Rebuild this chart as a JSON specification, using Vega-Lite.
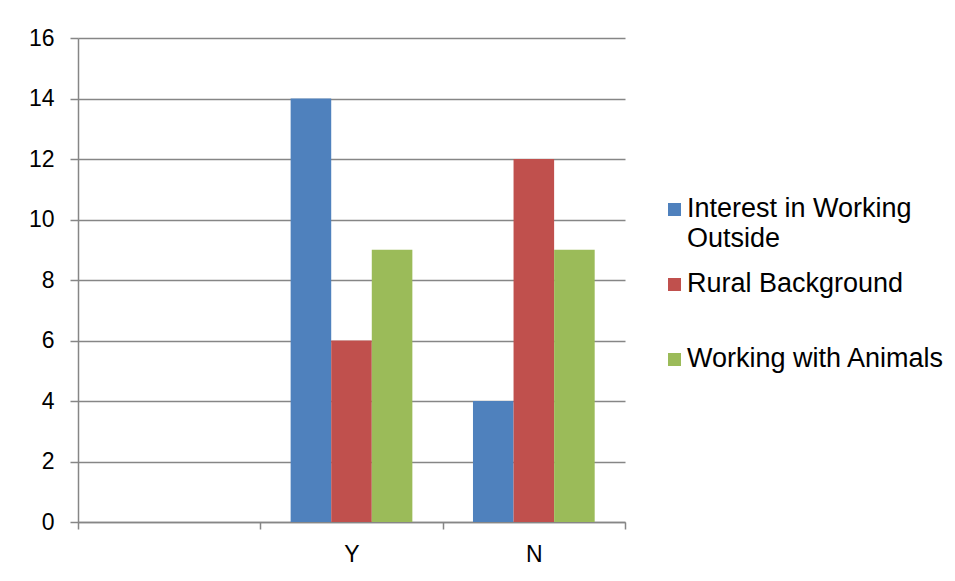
{
  "$schema": "https://vega.github.io/schema/vega-lite/v6.json",
  "width": 547,
  "height": 484,
  "autosize": {"type": "none"},
  "padding": {"left": 78, "top": 38, "right": 330, "bottom": 59},
  "background": "white",
  "data": {
    "values": [
      {"answer": "Y", "series": "Interest in Working Outside", "count": 14},
      {"answer": "Y", "series": "Rural Background", "count": 6},
      {"answer": "Y", "series": "Working with Animals", "count": 9},
      {"answer": "N", "series": "Interest in Working Outside", "count": 4},
      {"answer": "N", "series": "Rural Background", "count": 12},
      {"answer": "N", "series": "Working with Animals", "count": 9}
    ]
  },
  "mark": {"type": "bar"},
  "encoding": {
    "x": {
      "field": "answer",
      "type": "nominal",
      "scale": {"domain": ["", "Y", "N"], "paddingInner": 0, "paddingOuter": 0},
      "axis": {
        "title": null,
        "labelAngle": 0,
        "tickBand": "extent",
        "tickSize": 7,
        "labelPadding": 14,
        "grid": false
      }
    },
    "xOffset": {
      "field": "series",
      "type": "nominal",
      "scale": {"paddingInner": 0, "paddingOuter": 0.747},
      "sort": ["Interest in Working Outside", "Rural Background", "Working with Animals"]
    },
    "y": {
      "field": "count",
      "type": "quantitative",
      "scale": {"domain": [0, 16], "nice": false},
      "axis": {
        "title": null,
        "values": [0, 2, 4, 6, 8, 10, 12, 14, 16],
        "tickSize": 8,
        "labelPadding": 16,
        "grid": true
      }
    },
    "color": {
      "field": "series",
      "type": "nominal",
      "scale": {
        "domain": ["Interest in Working Outside", "Rural Background", "Working with Animals"],
        "range": ["#4F81BD", "#C0504D", "#9BBB59"]
      },
      "legend": {
        "title": null,
        "orient": "none",
        "legendX": 583,
        "legendY": 158,
        "symbolType": "square",
        "symbolSize": 169,
        "symbolStrokeWidth": 0,
        "labelFontSize": 27,
        "labelFont": "Liberation Sans",
        "labelColor": "#000000",
        "labelOffset": -1,
        "labelLimit": 300,
        "labelBaseline": "top",
        "labelExpr": "datum.value == 'Interest in Working Outside' ? ['Interest in Working', 'Outside'] : [datum.value, '']",
        "rowPadding": 17,
        "encode": {
          "labels": {"update": {"dy": {"value": -14}, "lineHeight": {"value": 30}}}
        }
      }
    }
  },
  "config": {
    "view": {"stroke": null},
    "font": "Liberation Sans",
    "axis": {
      "labelFont": "Liberation Sans",
      "labelFontSize": 23,
      "labelColor": "#000000",
      "domainColor": "#868686",
      "domainWidth": 1.5,
      "tickColor": "#868686",
      "tickWidth": 1.5,
      "gridColor": "#868686",
      "gridWidth": 1.5
    }
  }
}
